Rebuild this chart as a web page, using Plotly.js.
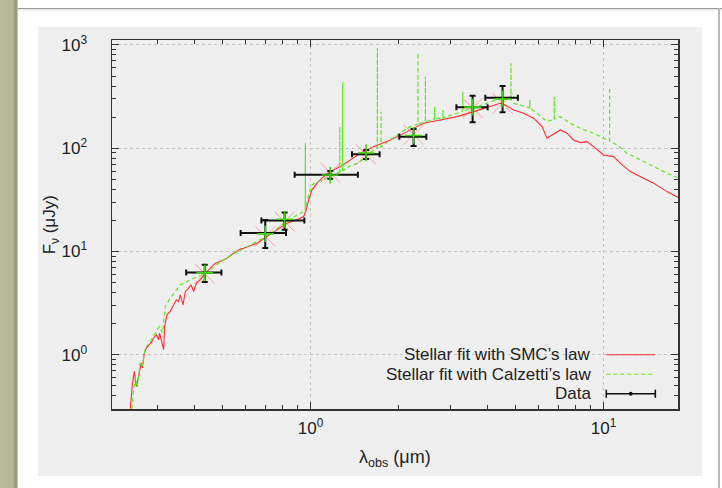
<!DOCTYPE html>
<html>
<head>
<meta charset="utf-8">
<script src="https://cdn.plot.ly/plotly-3.0.1.min.js"></script>
<style>
  html, body { margin:0; padding:0; background:#ffffff; }
  #frame { position:relative; width:722px; height:488px; overflow:hidden; background:#ffffff; }
  #strip { position:absolute; left:0; top:0; width:18px; height:488px;
           background:linear-gradient(to right,#b9bb9c 0%,#b4b694 70%,#8f9176 90%,#d8d8d0 100%); }
  #topline { position:absolute; left:18px; top:8px; width:704px; height:1px; background:#9a9a9a; }
  #topshade { position:absolute; left:18px; top:9px; width:704px; height:3px;
              background:linear-gradient(to bottom,#e4e4e4,#ffffff); }
  #rightline { position:absolute; left:718px; top:8px; width:2px; height:480px; background:#b8b8b8; }
  #panel { position:absolute; left:38px; top:27px; width:664px; height:449px; background:#efefef; }
  #chart { position:absolute; left:0; top:0; width:722px; height:488px; }
</style>
</head>
<body>
<div id="frame">
  <div id="strip"></div>
  <div id="topline"></div>
  <div id="topshade"></div>
  <div id="rightline"></div>
  <div id="panel"></div>
  <div id="chart"></div>
</div>
<script>
// ---- Stellar fit with SMC's law (wavelength in micron, flux in microJy)
const smcLambda = [0.2424,0.2462,0.2502,0.2541,0.2588,0.2637,0.2665,0.2706,0.2749,0.2822,
  0.2875,0.2912,0.2974,0.3028,0.3052,0.3110,0.3149,0.3174,0.3235,0.3320,
  0.3406,0.3479,0.3543,0.3591,0.3668,0.3735,0.3833,0.3906,0.3987,0.4073,
  0.4203,0.4371,0.4547,0.4728,0.4917,0.5184,0.5460,0.5755,0.5906,0.6222,
  0.6562,0.7095,0.7679,0.8308,0.8988,0.9465,0.9667,0.9844,1.0110,1.0515,
  1.1075,1.1675,1.2630,1.3662,1.4779,1.6406,1.8707,2.1334,2.4308,2.7713,
  3.1601,3.6000,4.1050,4.4406,4.6183,4.9293,5.3333,5.7691,6.1645,6.4109,
  6.6680,7.1153,7.5020,7.9000,8.3267,8.7768,9.2446,10.000,10.818,11.402,
  12.333,13.342,14.815,16.461,18.17];
const smcFlux = [0.300,0.513,0.689,0.493,0.617,0.831,0.748,1.039,1.161,1.250,
  1.345,1.451,1.561,1.397,1.622,1.298,1.118,1.878,2.438,2.624,
  3.046,3.405,3.280,3.807,3.046,4.098,4.420,4.757,4.098,4.941,
  5.318,6.173,6.902,7.716,7.993,8.624,9.639,10.54,10.77,11.34,
  12.04,13.95,16.20,18.81,20.24,21.79,25.29,31.61,39.50,45.85,
  53.12,59.36,66.37,77.08,89.45,103.6,120.3,144.8,174.6,187.8,
  202.2,226.0,252.6,272.5,262.4,234.8,218.2,195.2,161.8,125.0,
  134.5,150.3,139.7,120.3,113.3,115.8,103.6,86.1,82.9,71.6,
  59.4,53.1,45.9,38.0,32.8];

// ---- Stellar fit with Calzetti's law (emission lines appear as repeated wavelengths)
const calzLambda = [0.2457,0.2482,0.2522,0.2561,0.2623,0.2665,0.2728,0.2837,0.2990,0.3052,
  0.3118,0.3190,0.3320,0.3453,0.3591,0.3735,0.3885,0.4203,0.4547,0.4917,
  0.5460,0.5906,0.6562,0.7095,0.7679,0.8308,0.8988,0.9465,0.9592,0.9592,
  0.9592,0.9844,1.011,1.0515,1.1075,1.1675,1.258,1.258,1.258,1.2857,
  1.2857,1.2857,1.3662,1.4548,1.6406,1.689,1.689,1.689,1.739,1.739,
  1.739,1.8707,2.1334,2.3255,2.3255,2.3255,2.4637,2.4637,2.4637,2.650,
  2.650,2.650,2.7713,2.830,2.830,2.830,3.1601,3.307,3.307,3.307,
  3.600,4.105,4.4406,4.831,4.831,4.831,4.9293,5.477,5.60,5.60,
  5.60,5.926,6.4109,6.786,6.786,6.786,7.1153,7.696,8.3267,9.2446,
  10.271,10.484,10.484,10.484,11.110,12.023,13.345,14.815,16.461,18.17];
const calzFlux = [0.300,0.4385,0.599,0.4795,0.856,0.783,1.161,1.336,1.746,1.878,
  1.633,2.934,3.537,4.098,4.757,4.973,5.318,5.812,6.645,7.942,
  9.491,10.61,12.40,14.17,16.57,19.36,22.62,24.35,24.74,111.8,
  24.74,35.33,44.16,47.2,49.35,53.95,59.0,161.9,59.0,60.3,
  435.1,60.3,67.9,71.6,96.3,100.7,928.3,100.7,102.9,226,
  102.9,120.3,156.1,171.8,841.4,171.8,180.9,493,180.9,192.1,
  252.6,192.1,195.2,196.5,234.8,196.5,218.2,229.6,353,229.6,
  243.8,282.4,304.6,293.3,664.5,293.3,272.5,252.6,245.4,293.3,
  245.4,218.2,180.9,192.1,315.8,192.1,202.2,174.6,156.1,139.7,
  120.3,117.7,389.2,117.7,107.6,89.45,77.08,66.37,57.3,51.26];

// ---- Observed photometry
const dataLambda     = [0.435, 0.700, 0.815, 1.167, 1.546, 2.246, 3.572, 4.520];
const dataLambdaLow  = [0.376, 0.577, 0.679, 0.882, 1.384, 2.008, 3.144, 3.947];
const dataLambdaHigh = [0.496, 0.824, 0.952, 1.450, 1.720, 2.483, 4.020, 5.100];
const dataFlux       = [6.26, 15.06, 19.9, 55.2, 87.5, 129.5, 249.3, 308.8];
const dataFluxLow    = [5.05, 10.8, 16.2, 50.5, 78.8, 105.3, 178.5, 222.9];
const dataFluxHigh   = [7.42, 20.2, 23.8, 60.3, 96.3, 153.7, 323.0, 400.6];

// ---- Model photometry at the observed bands
const modelFluxSMC  = [6.1, 14.0, 19.5, 58.0, 87.0, 135.0, 245.0, 270.0];
const modelFluxCalz = [6.2, 14.8, 20.5, 55.0, 90.0, 133.0, 250.0, 300.0];

// ---- Axis ticks and labels
const xTickVals = [1, 10];
const xTickText = ['10<sup>0</sup>', '10<sup>1</sup>'];
const xMinorTicks = [0.3,0.4,0.5,0.6,0.7,0.8,0.9,2,3,4,5,6,7,8,9];
const yTickVals = [1, 10, 100, 1000];
const yTickText = ['10<sup>0</sup>', '10<sup>1</sup>', '10<sup>2</sup>', '10<sup>3</sup>'];
const yMinorTicks = [0.4,0.5,0.6,0.7,0.8,0.9,2,3,4,5,6,7,8,9,20,30,40,50,60,70,80,90,200,300,400,500,600,700,800,900];

// ---- Legend labels
const legendLabels = ["Stellar fit with SMC’s law", "Stellar fit with Calzetti’s law", "Data"];

const RED = 'rgb(255,45,45)';
const GREEN = 'rgb(90,232,30)';

const traces = [
  { x: smcLambda, y: smcFlux, type: 'scatter', mode: 'lines',
    line: { color: RED, width: 1.1 }, hoverinfo: 'skip', showlegend: false },
  { x: calzLambda, y: calzFlux, type: 'scatter', mode: 'lines',
    line: { color: GREEN, width: 1.2, dash: '4px,3px' }, hoverinfo: 'skip', showlegend: false },
  { x: dataLambda, y: modelFluxSMC, type: 'scatter', mode: 'markers',
    marker: { symbol: 'x-thin-open', size: 20, color: 'rgba(255,95,95,0.55)',
              line: { color: 'rgba(255,95,95,0.55)', width: 1 } },
    hoverinfo: 'skip', showlegend: false },
  { x: dataLambda, y: dataFlux, type: 'scatter', mode: 'markers',
    marker: { color: '#111', size: 3 },
    error_x: { type: 'data', symmetric: false,
      array: dataLambda.map((v, i) => dataLambdaHigh[i] - v),
      arrayminus: dataLambda.map((v, i) => v - dataLambdaLow[i]),
      color: '#111', thickness: 2, width: 3 },
    error_y: { type: 'data', symmetric: false,
      array: dataFlux.map((v, i) => dataFluxHigh[i] - v),
      arrayminus: dataFlux.map((v, i) => v - dataFluxLow[i]),
      color: '#111', thickness: 2, width: 3 },
    hoverinfo: 'skip', showlegend: false },
  { x: dataLambda, y: modelFluxCalz, type: 'scatter', mode: 'markers',
    marker: { symbol: 'cross-thin-open', size: 12, color: 'rgb(60,210,10)',
              line: { color: 'rgb(60,210,10)', width: 1.6 } },
    hoverinfo: 'skip', showlegend: false }
];

// custom legend (text right aligned, sample to the right)
const legX = 0.8507, legS0 = 0.8733, legS1 = 0.9599;
const legY = [0.1470, 0.0942, 0.0414];
const annotations = legendLabels.map((t, i) => ({
  xref: 'paper', yref: 'paper', x: legX, y: legY[i], xanchor: 'right', yanchor: 'middle',
  text: t, showarrow: false, font: { size: 17, color: '#222' }
}));
annotations.push({ xref: 'paper', yref: 'paper', x: 0.5, y: -0.135, xanchor: 'center', yanchor: 'middle',
  text: 'λ<sub>obs</sub> (μm)', showarrow: false, font: { size: 18, color: '#222' } });
annotations.push({ xref: 'paper', yref: 'paper', x: -0.108, y: 0.5, xanchor: 'center', yanchor: 'middle',
  textangle: -90, text: 'F<sub>ν</sub> (μJy)', showarrow: false, font: { size: 17, color: '#222' } });

const capH = 0.011;
const shapes = [
  { type: 'line', xref: 'paper', yref: 'paper', x0: legS0, x1: legS1, y0: legY[0], y1: legY[0], line: { color: RED, width: 1.2 } },
  { type: 'line', xref: 'paper', yref: 'paper', x0: legS0, x1: legS1, y0: legY[1], y1: legY[1], line: { color: GREEN, width: 1.2, dash: '4px,3px' } },
  { type: 'line', xref: 'paper', yref: 'paper', x0: legS0, x1: legS1, y0: legY[2], y1: legY[2], line: { color: '#111', width: 1.6 } },
  { type: 'line', xref: 'paper', yref: 'paper', x0: legS0, x1: legS0, y0: legY[2] - capH, y1: legY[2] + capH, line: { color: '#111', width: 1.6 } },
  { type: 'line', xref: 'paper', yref: 'paper', x0: legS1, x1: legS1, y0: legY[2] - capH, y1: legY[2] + capH, line: { color: '#111', width: 1.6 } },
  { type: 'circle', xref: 'paper', yref: 'paper', x0: (legS0 + legS1) / 2 - 0.0035, x1: (legS0 + legS1) / 2 + 0.0035,
    y0: legY[2] - 0.0054, y1: legY[2] + 0.0054, fillcolor: '#111', line: { color: '#111', width: 0 } }
];

const axisCommon = {
  type: 'log', showline: true, linecolor: '#333', linewidth: 1.5, mirror: 'allticks',
  ticks: 'inside', ticklen: 7, tickwidth: 1, tickcolor: '#333', tickmode: 'array',
  showgrid: true, gridcolor: '#c4c4c4', griddash: 'dot', gridwidth: 1, zeroline: false,
  tickfont: { size: 17, color: '#222' }, automargin: false
};

const layout = {
  width: 722, height: 488,
  margin: { l: 112, r: 44, t: 40, b: 79 },
  paper_bgcolor: 'rgba(0,0,0,0)', plot_bgcolor: '#efefef',
  font: { family: 'Liberation Sans, Arial, Helvetica, sans-serif', size: 18, color: '#222' },
  showlegend: false,
  xaxis: Object.assign({}, axisCommon, {
    range: [-0.678, 1.254], tickvals: xTickVals, ticktext: xTickText,
    minor: { tickmode: 'array', tickvals: xMinorTicks, ticks: 'inside', ticklen: 4, tickcolor: '#333', showgrid: false },
    ticklabelstandoff: 3
  }),
  yaxis: Object.assign({}, axisCommon, {
    range: [-0.5254, 3.048], tickvals: yTickVals, ticktext: yTickText,
    minor: { tickmode: 'array', tickvals: yMinorTicks, ticks: 'inside', ticklen: 4, tickcolor: '#333', showgrid: false },
    ticklabelstandoff: 20
  }),
  annotations: annotations,
  shapes: shapes
};

Plotly.newPlot('chart', traces, layout, { staticPlot: true, displayModeBar: false });
</script>
</body>
</html>
